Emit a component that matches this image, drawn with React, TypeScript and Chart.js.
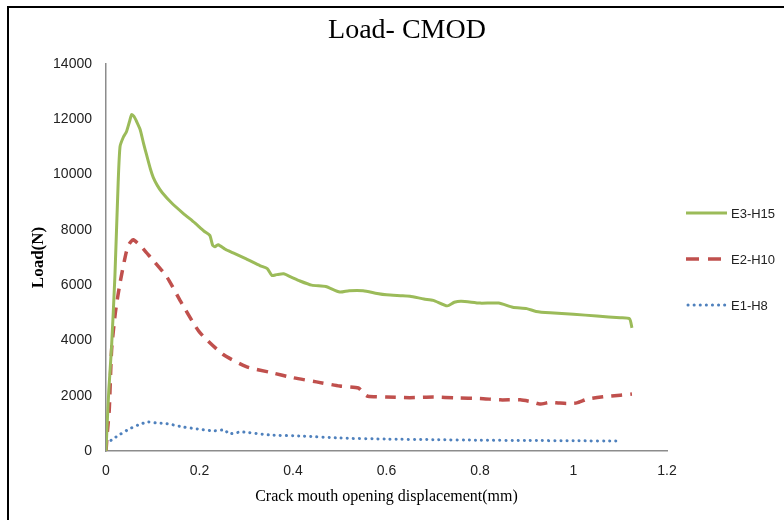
import React, { useEffect, useRef } from "react";
import { Chart, registerables } from "chart.js";

Chart.register(...registerables);

const chartTitle = "Load- CMOD";
const xTitle = "Crack mouth opening displacement(mm)";
const yTitle = "Load(N)";
const seriesNames = ["E3-H15", "E2-H10", "E1-H8"];
const seriesColors = ["#9BBB59", "#C0504D", "#4F81BD"];

const e3x = [0, 0.002, 0.006, 0.012, 0.019, 0.026, 0.03, 0.037, 0.044, 0.05, 0.055, 0.06, 0.066, 0.073, 0.08, 0.087, 0.095, 0.101, 0.11, 0.12, 0.14, 0.165, 0.19, 0.21, 0.222, 0.228, 0.233, 0.24, 0.255, 0.272, 0.3, 0.33, 0.345, 0.355, 0.365, 0.38, 0.395, 0.415, 0.44, 0.47, 0.5, 0.52, 0.55, 0.58, 0.6, 0.63, 0.65, 0.68, 0.7, 0.73, 0.745, 0.76, 0.8, 0.84, 0.87, 0.9, 0.92, 0.95, 1.0, 1.05, 1.1, 1.12, 1.125];
const e3y = [0, 800, 2200, 3800, 6300, 9700, 11010, 11350, 11560, 11900, 12170, 12100, 11900, 11630, 11150, 10700, 10200, 9900, 9600, 9350, 8980, 8600, 8250, 7950, 7800, 7450, 7390, 7460, 7300, 7170, 6950, 6700, 6600, 6350, 6380, 6410, 6300, 6150, 6000, 5950, 5750, 5800, 5800, 5700, 5650, 5620, 5600, 5500, 5450, 5250, 5380, 5420, 5350, 5350, 5200, 5150, 5050, 5000, 4950, 4880, 4820, 4780, 4450];

const e2x = [0, 0.003, 0.007, 0.012, 0.02, 0.03, 0.043, 0.05, 0.058, 0.075, 0.094, 0.13, 0.16, 0.2, 0.25, 0.3, 0.35, 0.4, 0.45, 0.5, 0.54, 0.55, 0.56, 0.6, 0.65, 0.7, 0.75, 0.8, 0.843, 0.886, 0.91, 0.928, 0.95, 0.967, 0.985, 1.007, 1.03, 1.063, 1.1, 1.125];
const e2y = [0, 700, 1500, 3660, 5000, 6080, 7170, 7500, 7640, 7400, 7030, 6300, 5400, 4300, 3500, 3050, 2850, 2650, 2500, 2350, 2280, 2100, 1980, 1950, 1930, 1950, 1920, 1900, 1850, 1850, 1780, 1700, 1760, 1740, 1720, 1740, 1880, 1960, 2020, 2060];

const e1x = [0, 0.004, 0.012, 0.03, 0.05, 0.07, 0.09, 0.11, 0.13, 0.165, 0.195, 0.23, 0.255, 0.262, 0.29, 0.35, 0.42, 0.5, 0.6, 0.7, 0.8, 0.9, 1.0, 1.1];
const e1y = [250, 300, 400, 600, 800, 950, 1050, 1010, 990, 870, 800, 730, 760, 620, 690, 580, 540, 470, 430, 410, 390, 380, 370, 360];

const xTicks = [0, 0.2, 0.4, 0.6, 0.8, 1, 1.2];
const yTicks = [0, 2000, 4000, 6000, 8000, 10000, 12000, 14000];

const toPts = (xs: number[], ys: number[]) => xs.map((x, i) => ({ x, y: ys[i] }));

const lineStyles = [
  { width: 3, dash: [] as number[], cap: "butt" as CanvasLineCap },
  { width: 3.5, dash: [11, 8], cap: "butt" as CanvasLineCap },
  { width: 3, dash: [0.1, 6], cap: "round" as CanvasLineCap },
];

const decorPlugin = {
  id: "decor",
  afterDraw(chart: any) {
    const ctx = chart.ctx as CanvasRenderingContext2D;
    ctx.save();
    ctx.strokeStyle = "#000";
    ctx.lineWidth = 2;
    ctx.beginPath();
    ctx.moveTo(8, 520);
    ctx.lineTo(8, 7);
    ctx.lineTo(784, 7);
    ctx.stroke();
    ctx.fillStyle = "#000";
    ctx.font = "28px 'Liberation Serif', serif";
    ctx.textAlign = "center";
    ctx.textBaseline = "middle";
    ctx.fillText(chartTitle, 407, 31);
    const ys = [213, 259, 305];
    ctx.font = "13px 'Liberation Sans', sans-serif";
    ctx.textAlign = "left";
    for (let i = 0; i < 3; i++) {
      const st = lineStyles[i];
      ctx.strokeStyle = seriesColors[i];
      ctx.lineWidth = st.width;
      ctx.setLineDash(i === 1 ? [13, 9] : st.dash);
      ctx.lineCap = st.cap;
      ctx.beginPath();
      ctx.moveTo(i === 2 ? 688 : 686, ys[i]);
      ctx.lineTo(727, ys[i]);
      ctx.stroke();
      ctx.setLineDash([]);
      ctx.fillStyle = "#222";
      ctx.fillText(seriesNames[i], 731, ys[i] + 1);
    }
    ctx.restore();
  },
};

export default function App() {
  const ref = useRef<HTMLCanvasElement>(null);
  useEffect(() => {
    if (!ref.current) return;
    const all = [toPts(e3x, e3y), toPts(e2x, e2y), toPts(e1x, e1y)];
    const chart = new Chart(ref.current, {
      type: "scatter",
      data: {
        datasets: all.map((d, i) => ({
          label: seriesNames[i],
          data: d,
          showLine: true,
          borderColor: seriesColors[i],
          backgroundColor: seriesColors[i],
          borderWidth: lineStyles[i].width,
          borderDash: lineStyles[i].dash,
          borderCapStyle: lineStyles[i].cap,
          borderJoinStyle: "round",
          pointRadius: 0,
          tension: 0.2,
        })),
      },
      options: {
        animation: false,
        responsive: false,
        devicePixelRatio: 1,
        layout: { padding: { left: 0, top: 64, right: 117, bottom: 0 } },
        plugins: {
          legend: { display: false },
          title: { display: false },
          tooltip: { enabled: false },
        },
        scales: {
          x: {
            type: "linear",
            min: 0,
            max: 1.2,
            afterBuildTicks: (s: any) => {
              s.ticks = xTicks.map((v) => ({ value: v }));
            },
            afterFit: (s: any) => {
              s.height = 69;
            },
            grid: { display: false, drawTicks: false },
            border: { color: "#8c8c8c", width: 1.5 },
            ticks: {
              padding: 12,
              color: "#222",
              font: { family: "'Liberation Sans', sans-serif", size: 14 },
              callback: (v: any) => String(v),
            },
            title: {
              display: true,
              text: xTitle,
              color: "#000",
              font: { family: "'Liberation Serif', serif", size: 16 },
              padding: { top: 0, bottom: 14 },
            },
          },
          y: {
            type: "linear",
            min: 0,
            max: 14000,
            afterBuildTicks: (s: any) => {
              s.ticks = yTicks.map((v) => ({ value: v }));
            },
            afterFit: (s: any) => {
              s.width = 106;
            },
            grid: { display: false, drawTicks: false },
            border: { color: "#8c8c8c", width: 1.5 },
            ticks: {
              padding: 14,
              color: "#222",
              font: { family: "'Liberation Sans', sans-serif", size: 14 },
              callback: (v: any) => String(v),
            },
            title: {
              display: true,
              text: yTitle,
              color: "#000",
              font: { family: "'Liberation Serif', serif", size: 17, weight: "bold" },
              padding: { top: 28, bottom: 0 },
            },
          },
        },
      },
      plugins: [decorPlugin],
    });
    return () => chart.destroy();
  }, []);
  return (
    <div style={{ position: "fixed", left: 0, top: 0, width: 784, height: 520, background: "#fff" }}>
      <canvas ref={ref} width={784} height={520} style={{ display: "block" }} />
    </div>
  );
}
